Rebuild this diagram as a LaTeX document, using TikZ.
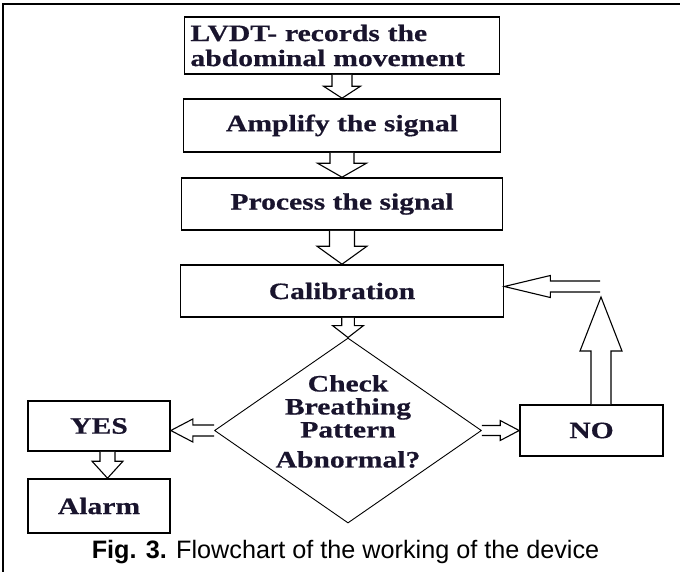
\documentclass[tikz,border=0pt]{standalone}
\usepackage{fontspec}
\newfontfamily\flowfont{Liberation Serif}[FakeStretch=1.26, FakeBold=0.6]
\newfontfamily\capfont{Liberation Sans}
\usetikzlibrary{shapes.geometric, calc}
\definecolor{inkblue}{RGB}{25,20,45}

\begin{document}
\begin{tikzpicture}[x=1pt, y=-1pt,
    flowbox/.style={draw, line width=1.6pt, inner sep=0pt, text=inkblue,
      font=\flowfont\bfseries\fontsize{23.5}{25}\selectfont},
    decision/.style={draw, diamond, line width=0.9pt, inner sep=0pt,
      minimum width=267pt, minimum height=185pt},
    blockarrow/.style n args={3}{draw, fill=white, line width=1.1pt, line join=miter,
      to path={($(\tikztostart)!#1!90:(\tikztotarget)$)
        -- ($(\tikztotarget)!#3!(\tikztostart)!#1!-90:(\tikztostart)$)
        -- ($(\tikztotarget)!#3!(\tikztostart)!#2!-90:(\tikztostart)$)
        -- (\tikztotarget)
        -- ($(\tikztotarget)!#3!(\tikztostart)!#2!90:(\tikztostart)$)
        -- ($(\tikztotarget)!#3!(\tikztostart)!#1!90:(\tikztostart)$)
        -- ($(\tikztostart)!#1!-90:(\tikztotarget)$)}}]
  \useasboundingbox (0,0) rectangle (680,571);
  \clip (0,0) rectangle (680,571);
  \draw[line width=2pt] (3,4) rectangle (690,585);

  \node[flowbox, minimum width=315pt, minimum height=57pt, text width=303pt, align=left] (lvdt) at (342,45.5) {LVDT- records the\\abdominal movement};
  \node[flowbox, minimum width=317pt, minimum height=53pt] (amplify) at (342,125.5) {Amplify the signal};
  \node[flowbox, minimum width=321pt, minimum height=52pt] (process) at (342,204) {Process the signal};
  \node[flowbox, minimum width=323pt, minimum height=52pt] (calib) at (342,291) {Calibration};
  \node[decision] (check) at (348,430.5) {};
  \node[flowbox, draw=none, align=center, font=\flowfont\bfseries\fontsize{23.5}{23}\selectfont] (checktext) at ([yshift=9pt]check.center) {Check\\Breathing\\Pattern\\[7pt]Abnormal?};
  \node[flowbox, minimum width=142pt, minimum height=50pt] (yes) at (99,426) {YES};
  \node[flowbox, minimum width=142pt, minimum height=54pt] (alarm) at (99,506) {Alarm};
  \node[flowbox, minimum width=143pt, minimum height=51pt] (no) at (591.5,430.5) {NO};
  \coordinate (loopleft) at (600,286.5);
  \coordinate (loopup) at (601,297);

  \draw[blockarrow={10pt}{18.5pt}{12pt}] (lvdt.south) to (amplify.north);
  \draw[blockarrow={12pt}{24.5pt}{14pt}] (amplify.south) to (process.north);
  \draw[blockarrow={12.5pt}{25pt}{18pt}] (process.south) to (calib.north);
  \draw[blockarrow={6.3pt}{15.5pt}{12pt}] (calib.south -| check.north) to (check.north);
  \draw[blockarrow={5pt}{10pt}{19pt}] (check.east) to (check.east -| no.west);
  \draw[blockarrow={5.5pt}{11.5pt}{22pt}] (check.west) to (check.west -| yes.east);
  \draw[blockarrow={7.5pt}{15.5pt}{17pt}] ([xshift=8.5pt]yes.south) to ([xshift=8.5pt]alarm.north);
  \draw[blockarrow={10pt}{21pt}{54pt}] (loopup |- no.north) to (loopup);
  \draw[blockarrow={5.5pt}{11pt}{46pt}] (loopleft) to (loopleft -| calib.east);

  \node[font=\capfont\fontsize{25.2}{28}\selectfont, anchor=base] (caption) at (345.5,558) {\textbf{Fig. 3.} Flowchart of the working of the device};
\end{tikzpicture}
\end{document}
